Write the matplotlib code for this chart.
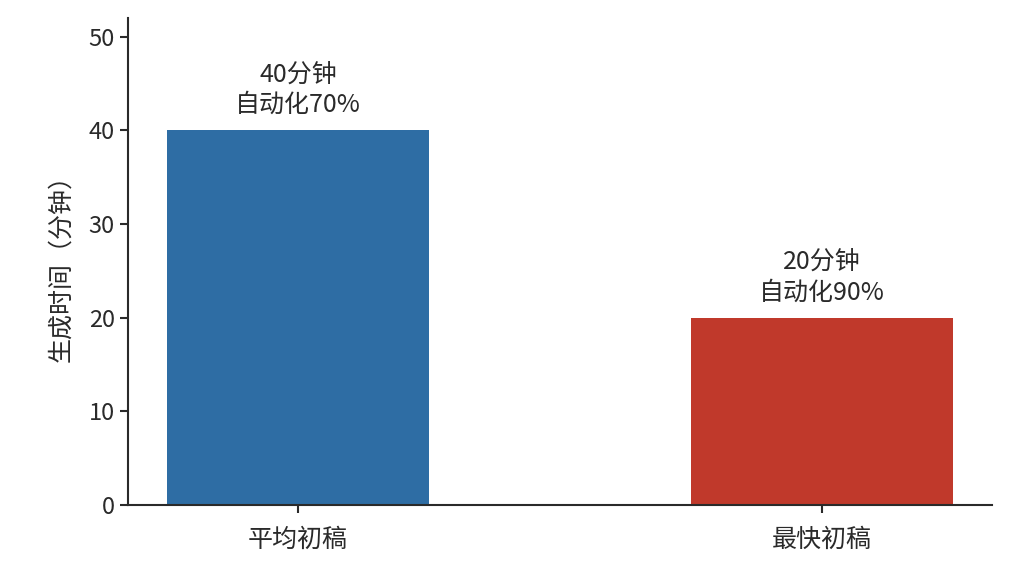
import matplotlib
matplotlib.use("Agg")
import matplotlib.pyplot as plt

plt.rcParams['font.family'] = ['Noto Sans CJK SC', 'DejaVu Sans']

categories = ['平均初稿', '最快初稿']
values = [40, 20]
labels = ['40分钟\n自动化70%', '20分钟\n自动化90%']
colors = ['#2e6da4', '#c0392b']

fig = plt.figure(figsize=(10.23, 5.75), dpi=100)
ax = fig.add_axes([0.1251, 0.1217, 0.8446, 0.847])

x = list(range(len(categories)))
ax.bar(x, values, width=0.5, color=colors)
for xi, v, lab in zip(x, values, labels):
    ax.text(xi, v + 1.3, lab, ha='center', va='bottom', fontsize=18,
            color='#2a2a2a', linespacing=1.2)

ax.set_xticks(x)
ax.set_xticklabels(categories, fontsize=18, color='#2a2a2a')
ax.set_xlim(-0.325, 1.325)
ax.set_ylim(0, 52)
ax.set_yticks([0, 10, 20, 30, 40, 50])
ax.tick_params(axis='y', labelsize=17)
ax.tick_params(axis='x', pad=10)
ax.set_ylabel('生成时间（分钟）', fontsize=18, color='#2a2a2a', labelpad=10)
ax.spines['top'].set_visible(False)
ax.spines['right'].set_visible(False)
for s in ['left', 'bottom']:
    ax.spines[s].set_linewidth(1.5)
    ax.spines[s].set_color('#2a2a2a')
ax.tick_params(width=1.5, length=6, color='#2a2a2a', labelcolor='#2a2a2a')

fig.savefig('out.png', dpi=100)
